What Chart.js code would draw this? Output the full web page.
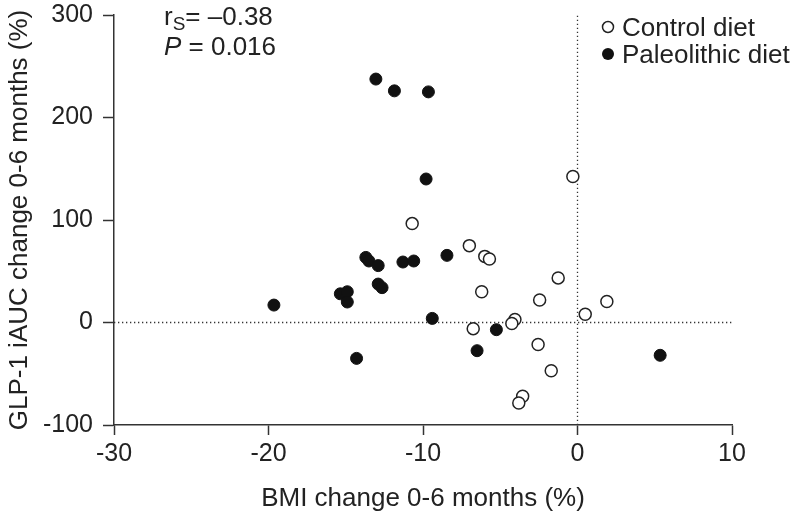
<!DOCTYPE html>
<html>
<head>
<meta charset="utf-8">
<script src="https://cdn.jsdelivr.net/npm/chart.js@4.4.1/dist/chart.umd.min.js"></script>
<style>
  html, body { margin: 0; padding: 0; background: #fff; }
  #wrap { width: 793px; height: 516px; }
</style>
</head>
<body>
<div id="wrap"><canvas id="c" width="793" height="516"></canvas></div>
<script>
// Control diet: BMI change (%) and GLP-1 iAUC change (%)
const controlBMI  = [-0.3, -10.7, -7.0, -6.0, -5.7, -1.25, -6.2, -2.45, 0.5, -4.05, -4.25, -6.75, -2.55, -1.7, -3.55, -3.8, 1.9];
const controlGLP1 = [142.5, 96.5, 75, 64.5, 62, 43.5, 30, 22, 8, 3, -1, -6, -21.5, -47, -72, -78.5, 20.5];
// Paleolithic diet
const paleoBMI  = [-13.05, -11.85, -9.65, -9.8, -8.45, -13.7, -13.5, -12.9, -11.3, -10.6, -12.9, -12.65, -15.35, -14.9, -14.9, -19.65, -9.4, -5.25, -6.5, -14.3, 5.35];
const paleoGLP1 = [237.5, 226, 225, 140, 65.5, 63.5, 60, 55.5, 59, 60, 37.5, 34, 28, 30, 20, 17, 4, -7, -27.5, -35, -32];
// Axis ticks
const xTickValues = [-30, -20, -10, 0, 10];
const yTickValues = [-100, 0, 100, 200, 300];
const seriesNames = ['Control diet', 'Paleolithic diet'];
const statText = { rs: '= \u20130.38', p: ' = 0.016' };

const FONT = "'Liberation Sans', Arial, Helvetica, sans-serif";
const INK = '#222222';

function pts(xs, ys) { return xs.map((x, i) => ({ x: x, y: ys[i] })); }

const overlay = {
  id: 'overlay',
  afterDraw(chart) {
    const ctx = chart.ctx;
    ctx.save();
    ctx.fillStyle = INK;
    ctx.textBaseline = 'alphabetic';
    ctx.textAlign = 'left';
    // statistics text
    ctx.font = '26px ' + FONT;
    ctx.fillText('r', 164, 25);
    const rw = ctx.measureText('r').width;
    ctx.font = '19px ' + FONT;
    ctx.fillText('S', 164 + rw, 30);
    const sw = ctx.measureText('S').width;
    ctx.font = '26px ' + FONT;
    ctx.fillText(statText.rs, 164 + rw + sw, 25);
    ctx.font = 'italic 26px ' + FONT;
    ctx.fillText('P', 164, 55);
    const pw = ctx.measureText('P').width;
    ctx.font = '26px ' + FONT;
    ctx.fillText(statText.p, 164 + pw, 55);
    // legend
    ctx.lineWidth = 1.5;
    ctx.strokeStyle = INK;
    ctx.beginPath(); ctx.arc(608, 27, 5.5, 0, Math.PI * 2);
    ctx.fillStyle = '#fff'; ctx.fill(); ctx.stroke();
    ctx.beginPath(); ctx.arc(608, 54, 6, 0, Math.PI * 2);
    ctx.fillStyle = '#111'; ctx.fill();
    ctx.fillStyle = INK;
    ctx.font = '26px ' + FONT;
    ctx.fillText(seriesNames[0], 622, 36);
    ctx.fillText(seriesNames[1], 622, 63);
    ctx.restore();
  }
};

new Chart(document.getElementById('c'), {
  type: 'scatter',
  data: {
    datasets: [
      {
        type: 'line', label: 'zeroY',
        data: [{ x: -30, y: 0 }, { x: 10, y: 0 }],
        borderColor: '#333', borderWidth: 1.3, borderDash: [1.3, 2.7],
        pointRadius: 0, fill: false, order: 5
      },
      {
        type: 'line', label: 'zeroX',
        data: [{ x: 0, y: -100 }, { x: 0, y: 300 }],
        borderColor: '#333', borderWidth: 1.3, borderDash: [1.3, 2.7],
        pointRadius: 0, fill: false, order: 5
      },
      {
        label: seriesNames[0],
        data: pts(controlBMI, controlGLP1),
        pointRadius: 6, pointBackgroundColor: '#fff', pointBorderColor: INK,
        pointBorderWidth: 1.5, order: 2
      },
      {
        label: seriesNames[1],
        data: pts(paleoBMI, paleoGLP1),
        pointRadius: 6, pointBackgroundColor: '#111', pointBorderColor: '#111',
        pointBorderWidth: 1, order: 1
      }
    ]
  },
  options: {
    responsive: false,
    animation: false,
    devicePixelRatio: 1,
    layout: { padding: { top: 15, right: 61, left: 0, bottom: 0 } },
    plugins: { legend: { display: false }, tooltip: { enabled: false } },
    scales: {
      x: {
        type: 'linear', min: -30, max: 10,
        afterBuildTicks: (s) => { s.ticks = xTickValues.map(v => ({ value: v })); },
        afterFit: (s) => { s.height = 91; s.paddingLeft = 0; s.paddingRight = 0; },
        grid: { drawOnChartArea: false, drawTicks: true, tickLength: 10, color: '#333', tickWidth: 1.5 },
        border: { display: true, color: '#333', width: 1.5 },
        ticks: { color: INK, font: { family: FONT, size: 25 }, padding: 4, maxRotation: 0 },
        title: { display: true, text: 'BMI change 0-6 months (%)', color: INK, font: { family: FONT, size: 26 }, padding: { top: 2, bottom: 2 } }
      },
      y: {
        type: 'linear', min: -100, max: 300,
        afterBuildTicks: (s) => { s.ticks = yTickValues.map(v => ({ value: v })); },
        afterFit: (s) => { s.width = 114; s.paddingTop = 0; s.paddingBottom = 0; },
        grid: { drawOnChartArea: false, drawTicks: true, tickLength: 11, color: '#333', tickWidth: 1.5 },
        border: { display: true, color: '#333', width: 1.5 },
        ticks: { color: INK, font: { family: FONT, size: 25 }, padding: 10 },
        title: { display: true, text: 'GLP-1 iAUC change 0-6 months (%)', color: INK, font: { family: FONT, size: 26 }, padding: { top: 4, bottom: 2 } }
      }
    }
  },
  plugins: [overlay]
});
</script>
</body>
</html>
